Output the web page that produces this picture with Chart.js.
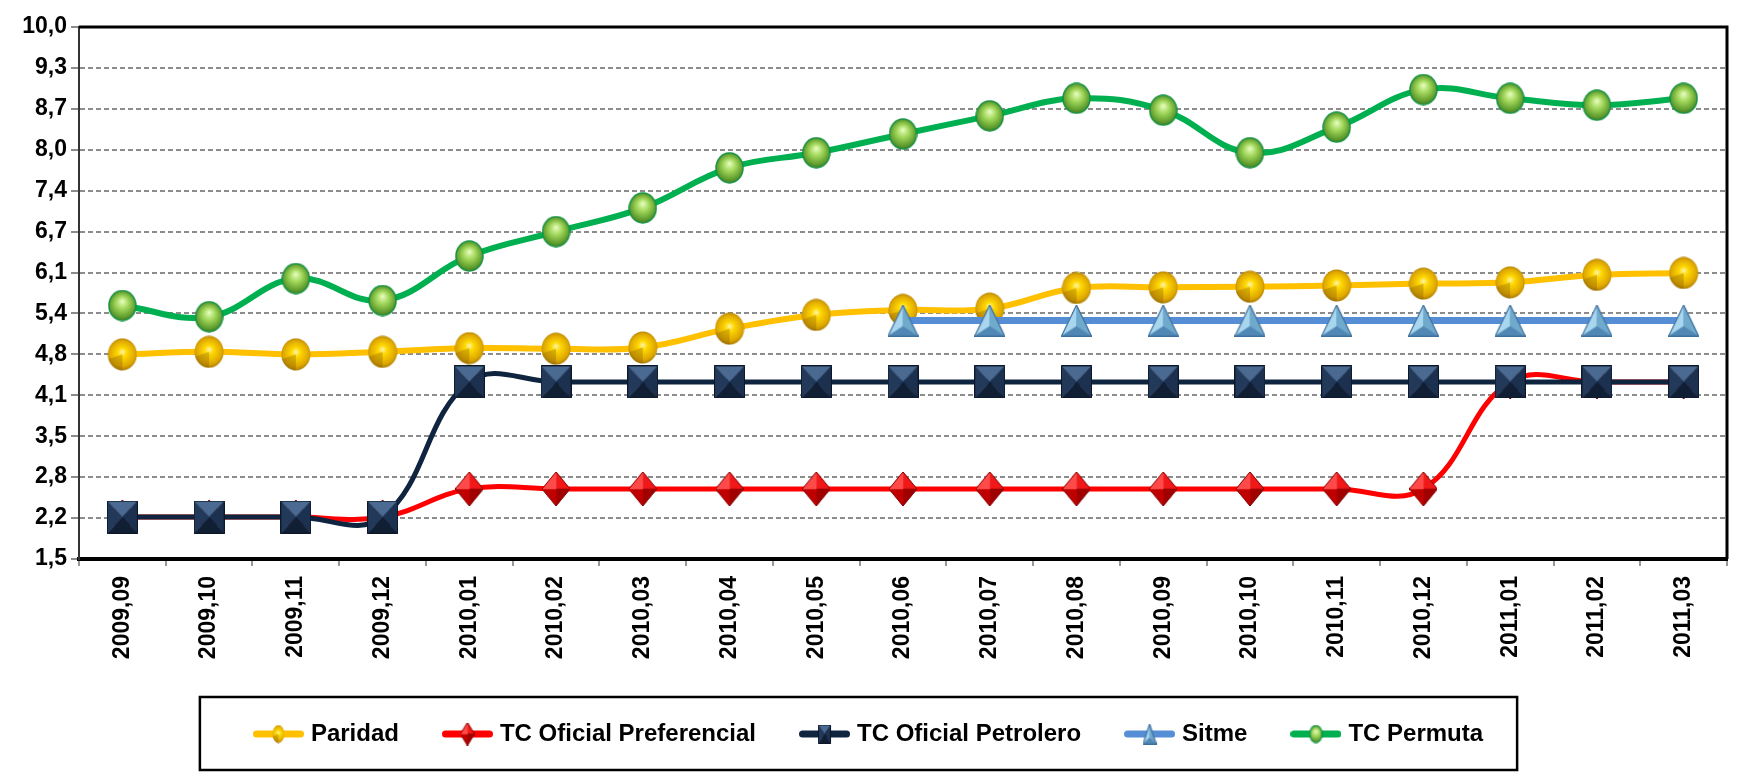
<!DOCTYPE html>
<html>
<head>
<meta charset="utf-8">
<style>
  html, body { margin: 0; padding: 0; background: #fff; }
</style>
<script src="https://cdn.jsdelivr.net/npm/chart.js@4"></script>
</head>
<body>
<canvas id="chart" width="1749" height="778"></canvas>
<script>
// --- data ---
const categories = ['2009,09', '2009,10', '2009,11', '2009,12', '2010,01', '2010,02', '2010,03',
  '2010,04', '2010,05', '2010,06', '2010,07', '2010,08', '2010,09', '2010,10', '2010,11',
  '2010,12', '2011,01', '2011,02', '2011,03'];

const paridad = [4.77, 4.81, 4.77, 4.81, 4.87, 4.86, 4.88, 5.18, 5.40, 5.48, 5.50, 5.83,
  5.84, 5.85, 5.87, 5.90, 5.92, 6.04, 6.07];
const preferencial = [2.17, 2.17, 2.17, 2.17, 2.62, 2.62, 2.62, 2.62, 2.62, 2.62, 2.62, 2.62,
  2.62, 2.62, 2.62, 2.62, 4.33, 4.33, 4.33];
const petrolero = [2.17, 2.17, 2.17, 2.17, 4.33, 4.33, 4.33, 4.33, 4.33, 4.33, 4.33, 4.33,
  4.33, 4.33, 4.33, 4.33, 4.33, 4.33, 4.33];
const sitme = [null, null, null, null, null, null, null, null, null, 5.31, 5.31, 5.31,
  5.31, 5.31, 5.31, 5.31, 5.31, 5.31, 5.31];
const permuta = [5.55, 5.37, 5.98, 5.63, 6.34, 6.73, 7.11, 7.75, 7.99, 8.29, 8.58, 8.86,
  8.67, 7.99, 8.40, 9.00, 8.86, 8.75, 8.86];

const seriesNames = ['Paridad', 'TC Oficial Preferencial', 'TC Oficial Petrolero', 'Sitme', 'TC Permuta'];
const yTickLabels = ['1,5', '2,2', '2,8', '3,5', '4,1', '4,8', '5,4', '6,1', '6,7', '7,4', '8,0', '8,7', '9,3', '10,0'];
const yMin = 1.5;
const yMax = 10;

const FONT = '"Liberation Sans", Arial, sans-serif';
const legendSize = 24;

// --- marker images ---
function mk(w, h, draw) {
  const c = document.createElement('canvas');
  c.width = w; c.height = h;
  draw(c.getContext('2d'), w, h);
  return c;
}

function goldBall(w, h) {
  return mk(w, h, (g) => {
    g.beginPath();
    g.ellipse(w / 2, h / 2, w / 2 - 0.5, h / 2 - 0.5, 0, 0, Math.PI * 2);
    const gr = g.createRadialGradient(w * 0.5, h * 0.42, 0, w * 0.5, h * 0.5, h * 0.55);
    gr.addColorStop(0, '#fff6b0');
    gr.addColorStop(0.25, '#ffd800');
    gr.addColorStop(0.7, '#dfa800');
    gr.addColorStop(1, '#8f6600');
    g.fillStyle = gr;
    g.fill();
    g.save();
    g.clip();
    g.globalAlpha = 0.3;
    g.fillStyle = '#7a5200';
    g.beginPath();
    g.moveTo(w / 2, h / 2);
    g.lineTo(0, h * 0.65);
    g.lineTo(0, h);
    g.lineTo(w / 2, h);
    g.closePath();
    g.fill();
    g.restore();
  });
}

function greenBall(w, h) {
  return mk(w, h, (g) => {
    g.beginPath();
    g.ellipse(w / 2, h / 2, w / 2 - 1, h / 2 - 1, 0, 0, Math.PI * 2);
    const gr = g.createRadialGradient(w * 0.5, h * 0.36, 0, w * 0.5, h * 0.5, h * 0.55);
    gr.addColorStop(0, '#eaffc4');
    gr.addColorStop(0.35, '#a3d85c');
    gr.addColorStop(0.75, '#5c9a2c');
    gr.addColorStop(1, '#2b621a');
    g.fillStyle = gr;
    g.fill();
    g.lineWidth = 1.5;
    g.strokeStyle = '#159244';
    g.stroke();
  });
}

function faceted(w, h, pts, colors, edge) {
  return mk(w, h, (g) => {
    const cx = w / 2, cy = h / 2;
    pts.forEach((p, i) => {
      const q = pts[(i + 1) % pts.length];
      g.beginPath();
      g.moveTo(p[0], p[1]);
      g.lineTo(q[0], q[1]);
      g.lineTo(cx, cy);
      g.closePath();
      g.fillStyle = colors[i];
      g.fill();
      g.strokeStyle = colors[i];
      g.lineWidth = 0.6;
      g.stroke();
    });
    if (edge) {
      g.beginPath();
      pts.forEach((p, i) => (i ? g.lineTo(p[0], p[1]) : g.moveTo(p[0], p[1])));
      g.closePath();
      g.strokeStyle = edge;
      g.lineWidth = 1;
      g.stroke();
    }
  });
}

function redDiamond(w, h) {
  return faceted(w, h, [[w / 2, 0], [w, h / 2], [w / 2, h], [0, h / 2]],
    ['#f01818', '#a00000', '#c00000', '#ff4a4a'], '#8a0000');
}

function navySquare(w, h) {
  return faceted(w, h, [[0.5, 0.5], [w - 0.5, 0.5], [w - 0.5, h - 0.5], [0.5, h - 0.5]],
    ['#4b6a92', '#1c3150', '#111f35', '#22395a'], '#0c1829');
}

function blueTriangle(w, h) {
  return mk(w, h, (g) => {
    const a = [w / 2, 0.5], b = [w - 0.5, h - 0.5], c = [0.5, h - 0.5];
    const m = [w / 2, h * 0.68];
    const faces = [[a, m, c, '#a8d6ee'], [a, b, m, '#6fa9cc'], [c, m, b, '#4f88b4']];
    faces.forEach(([p, q, r, col]) => {
      g.beginPath();
      g.moveTo(p[0], p[1]); g.lineTo(q[0], q[1]); g.lineTo(r[0], r[1]);
      g.closePath();
      g.fillStyle = col;
      g.fill();
      g.strokeStyle = col;
      g.lineWidth = 0.6;
      g.stroke();
    });
    g.beginPath();
    g.moveTo(a[0], a[1]); g.lineTo(b[0], b[1]); g.lineTo(c[0], c[1]);
    g.closePath();
    g.strokeStyle = '#3e6e9c';
    g.lineWidth = 1.2;
    g.stroke();
  });
}

const lineColors = ['#FFC000', '#FF0000', '#0F243E', '#558ED5', '#00B050'];

const pointImages = [
  goldBall(30, 33),
  redDiamond(28, 34),
  navySquare(31, 33),
  blueTriangle(31, 32),
  greenBall(29, 32)
];

const smallImages = [
  goldBall(13, 19),
  redDiamond(14, 23),
  navySquare(13, 19),
  blueTriangle(14, 21),
  greenBall(14, 19)
];

const legendIcons = lineColors.map((col, i) => mk(51, 24, (g, w, h) => {
  g.beginPath();
  g.moveTo(3.5, h / 2);
  g.lineTo(w - 3.5, h / 2);
  g.lineCap = 'round';
  g.lineWidth = 7;
  g.strokeStyle = col;
  g.stroke();
  const img = smallImages[i];
  g.drawImage(img, (w - img.width) / 2, (h - img.height) / 2);
}));

// --- frame + legend box ---
const framePlugin = {
  id: 'frame',
  afterDraw(chart) {
    const { ctx, chartArea: a } = chart;
    ctx.save();
    ctx.strokeStyle = '#000';
    ctx.lineWidth = 3;
    ctx.beginPath();
    ctx.moveTo(a.left, a.top);
    ctx.lineTo(a.right, a.top);
    ctx.lineTo(a.right, a.bottom);
    ctx.stroke();

    const hb = chart.legend.legendHitBoxes;
    if (hb && hb.length) {
      const first = hb[0], last = hb[hb.length - 1];
      const x0 = first.left - 58;
      const x1 = last.left + last.width + 34;
      const cy = first.top + first.height / 2;
      ctx.lineWidth = 2.5;
      ctx.strokeRect(x0, cy - 37, x1 - x0, 73);
    }
    ctx.restore();
  }
};

const datasets = [
  { label: seriesNames[0], data: paridad, borderColor: lineColors[0], backgroundColor: lineColors[0],
    borderWidth: 6, pointStyle: pointImages[0], order: 2 },
  { label: seriesNames[1], data: preferencial, borderColor: lineColors[1], backgroundColor: lineColors[1],
    borderWidth: 5, pointStyle: pointImages[1], order: 4 },
  { label: seriesNames[2], data: petrolero, borderColor: lineColors[2], backgroundColor: lineColors[2],
    borderWidth: 5, pointStyle: pointImages[2], order: 3 },
  { label: seriesNames[3], data: sitme, borderColor: lineColors[3], backgroundColor: lineColors[3],
    borderWidth: 7, pointStyle: pointImages[3], order: 1 },
  { label: seriesNames[4], data: permuta, borderColor: lineColors[4], backgroundColor: lineColors[4],
    borderWidth: 6, pointStyle: pointImages[4], order: 0 }
].map(ds => Object.assign(ds, { pointRadius: 15, pointHoverRadius: 15, tension: 0.4, fill: false }));

new Chart(document.getElementById('chart'), {
  type: 'line',
  data: { labels: categories, datasets },
  plugins: [framePlugin],
  options: {
    responsive: false,
    animation: false,
    events: [],
    layout: { padding: { top: 27, right: 8, bottom: 22, left: 0 } },
    plugins: {
      tooltip: { enabled: false },
      legend: {
        position: 'bottom',
        labels: {
          usePointStyle: true,
          pointStyleWidth: 41,
          padding: 48,
          color: '#000',
          font: { family: FONT, size: legendSize, weight: 'bold' },
          generateLabels: (chart) => chart.data.datasets.map((ds, i) => ({
            text: ds.label,
            datasetIndex: i,
            pointStyle: legendIcons[i],
            fillStyle: ds.borderColor,
            strokeStyle: ds.borderColor,
            lineWidth: 0,
            hidden: false,
            fontColor: '#000'
          }))
        }
      }
    },
    scales: {
      x: {
        offset: true,
        afterFit: (scale) => { scale.height = 115; },
        grid: {
          offset: true,
          drawOnChartArea: false,
          drawTicks: true,
          tickLength: 7,
          color: '#999',
          lineWidth: 2
        },
        border: { color: '#000', width: 4 },
        ticks: {
          autoSkip: false,
          maxRotation: 90,
          minRotation: 90,
          padding: 10,
          color: '#000',
          font: { family: FONT, size: 23, weight: 'bold' }
        }
      },
      y: {
        min: yMin,
        max: yMax,
        afterFit: (scale) => { scale.width = 79; },
        afterBuildTicks: (scale) => {
          const n = yTickLabels.length - 1;
          scale.ticks = yTickLabels.map((_, i) => ({ value: yMin + i * (yMax - yMin) / n }));
        },
        grid: {
          color: '#8c8c8c',
          lineWidth: 2,
          tickLength: 8,
          tickColor: '#8c8c8c'
        },
        border: { color: '#333', width: 2, dash: [5, 3] },
        ticks: {
          padding: 4,
          color: '#000',
          font: { family: FONT, size: 23, weight: 'bold' },
          callback: (value, index) => yTickLabels[index]
        }
      }
    }
  }
});
</script>
</body>
</html>
